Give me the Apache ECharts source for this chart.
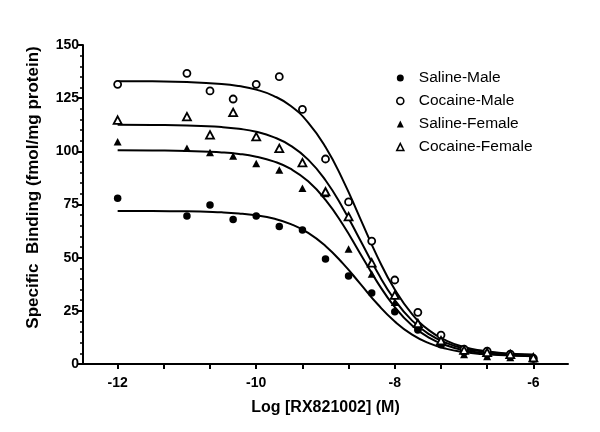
<!DOCTYPE html>
<html>
<head>
<meta charset="utf-8">
<script src="https://cdn.jsdelivr.net/npm/echarts@6/dist/echarts.min.js"></script>
<style>html,body{margin:0;padding:0;background:#fff}#c{width:600px;height:432px}</style>
</head>
<body>
<div id="c"></div>
<script>
// ---- data ----
var xPoints = [-12, -11, -10.667, -10.333, -10, -9.667, -9.333, -9, -8.667, -8.333, -8, -7.667, -7.333, -7, -6.667, -6.333, -6];
var salineMale    = [77.9, 69.6, 74.8, 68.0, 69.6, 64.6, 63.0, 49.4, 41.4, 33.4, 24.6, 16.0, 9.0, 5.5, 4.5, 3.5, 2.5];
var cocaineMale   = [131.5, 136.7, 128.4, 124.6, 131.5, 135.1, 119.7, 96.4, 76.2, 57.8, 39.5, 24.3, 13.6, 7.0, 6.1, 4.6, 2.7];
var salineFemale  = [104.5, 101.4, 99.4, 97.8, 94.3, 91.2, 82.6, 80.2, 54.1, 42.3, 29.0, 17.5, 10.0, 4.5, 3.5, 3.0, 2.5];
var cocaineFemale = [114.7, 116.3, 107.7, 118.3, 106.9, 101.4, 94.7, 81.0, 69.3, 47.6, 32.4, 19.1, 11.0, 6.5, 5.5, 4.5, 3.0];

// fitted curves, values
var curveX = [-12, -11.5, -11, -10.5, -10.25, -10, -9.75, -9.5, -9.25, -9, -8.75, -8.5, -8.25, -8, -7.75, -7.5, -7.25, -7, -6.75, -6.5, -6.25, -6];
var curveSalineMale    = [72.0, 71.9, 71.8, 71.3, 70.8, 69.9, 68.4, 65.8, 61.7, 55.5, 47.3, 37.8, 28.2, 20.0, 13.8, 9.7, 7.1, 5.6, 4.7, 4.2, 3.9, 3.7];
var curveCocaineMale   = [133.0, 132.9, 132.6, 131.7, 130.7, 129.0, 126.1, 121.3, 113.5, 102.0, 86.6, 68.5, 50.4, 35.0, 23.5, 15.7, 10.9, 8.0, 6.3, 5.3, 4.7, 4.4];
var curveSalineFemale  = [100.5, 100.4, 100.2, 99.5, 98.8, 97.5, 95.3, 91.7, 85.9, 77.2, 65.6, 52.0, 38.4, 26.8, 18.1, 12.3, 8.7, 6.5, 5.2, 4.5, 4.0, 3.8];
var curveCocaineFemale = [112.5, 112.4, 112.2, 111.4, 110.6, 109.2, 106.7, 102.6, 96.1, 86.4, 73.4, 58.3, 43.1, 30.1, 20.4, 13.9, 9.8, 7.3, 5.9, 5.1, 4.6, 4.3];

var seriesNames = ['Saline-Male', 'Cocaine-Male', 'Saline-Female', 'Cocaine-Female'];
var xTickValues = [-12, -11.333, -10.667, -10, -9.333, -8.667, -8, -7.333, -6.667, -6];
var xLabelValues = [-12, -10, -8, -6];

function pairs(xs, ys) { return xs.map(function (x, i) { return [x, ys[i]]; }); }

var FONT = 'Liberation Sans, Arial, sans-serif';
var pointSets = [salineMale, cocaineMale, salineFemale, cocaineFemale];
var curveSets = [curveSalineMale, curveCocaineMale, curveSalineFemale, curveCocaineFemale];
var symbols = [
  {symbol: 'circle', size: 7.5, fill: '#000', bw: 0},
  {symbol: 'circle', size: 7, fill: '#fff', bw: 1.8},
  {symbol: 'triangle', size: [8, 7.5], fill: '#000', bw: 0},
  {symbol: 'triangle', size: [8, 7.5], fill: '#fff', bw: 1.8}
];

var series = [];
curveSets.forEach(function (c, i) {
  series.push({
    name: 'fit' + i, type: 'line', data: pairs(curveX, c), smooth: true,
    showSymbol: false, symbol: 'none', silent: true, z: 2,
    lineStyle: {color: '#000', width: 2}
  });
});
pointSets.forEach(function (p, i) {
  var s = symbols[i];
  series.push({
    name: seriesNames[i], type: 'scatter', data: pairs(xPoints, p),
    symbol: s.symbol, symbolSize: s.size, z: 5,
    itemStyle: {color: s.fill, borderColor: '#000', borderWidth: s.bw, opacity: 1}
  });
});

var chart = echarts.init(document.getElementById('c'), null, {renderer: 'canvas'});
chart.setOption({
  animation: false,
  backgroundColor: '#fff',
  grid: {left: 83, right: 32, top: 45, bottom: 68, containLabel: false},
  legend: {
    data: seriesNames.map(function (n, i) {
      return {name: n, itemStyle: {color: symbols[i].fill, borderColor: '#000', borderWidth: symbols[i].bw ? 1.6 : 0}};
    }),
    orient: 'vertical', left: 391, top: 65, itemGap: 7,
    itemWidth: 7, itemHeight: 7,
    textStyle: {fontFamily: FONT, fontSize: 15.5, color: '#000', padding: [0, 0, 0, 10]}
  },
  xAxis: {
    type: 'value', min: -12.5, max: -5.5,
    name: 'Log [RX821002] (M)', nameLocation: 'middle', nameGap: 36,
    nameTextStyle: {fontFamily: FONT, fontSize: 16, fontWeight: 'bold', color: '#000'},
    axisLine: {show: true, onZero: false, lineStyle: {color: '#000', width: 2}},
    axisTick: {show: true, length: 5, customValues: xTickValues, lineStyle: {color: '#000', width: 2}},
    axisLabel: {customValues: xLabelValues, margin: 12, fontFamily: FONT, fontSize: 14, fontWeight: 'bold', color: '#000'},
    splitLine: {show: false}
  },
  yAxis: {
    type: 'value', min: 0, max: 150, interval: 25,
    name: 'Specific  Binding (fmol/mg protein)', nameLocation: 'middle', nameGap: 41,
    nameTextStyle: {fontFamily: FONT, fontSize: 17, fontWeight: 'bold', color: '#000', padding: [0, 0, 0, 34]},
    axisLine: {show: true, lineStyle: {color: '#000', width: 2}},
    axisTick: {show: true, length: 5, lineStyle: {color: '#000', width: 2}},
    minorTick: {show: true, splitNumber: 5, length: 3, lineStyle: {color: '#000', width: 1.5}},
    axisLabel: {margin: 4, fontFamily: FONT, fontSize: 14, fontWeight: 'bold', color: '#000'},
    splitLine: {show: false}
  },
  series: series
});
</script>
</body>
</html>
